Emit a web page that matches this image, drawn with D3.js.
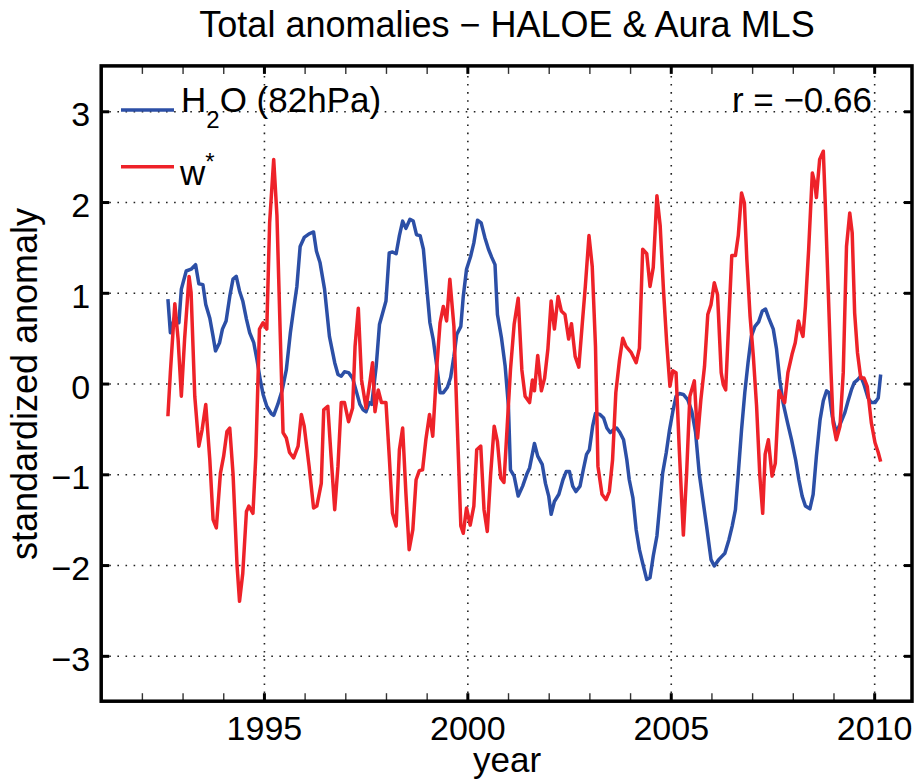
<!DOCTYPE html>
<html>
<head>
<meta charset="utf-8">
<script src="https://cdn.jsdelivr.net/npm/d3@7"></script>
<style>
  body { margin: 0; background: #fff; }
  svg { display: block; font-family: "Liberation Sans", Arial, Helvetica, sans-serif; }
  .grid line { stroke: #222; stroke-width: 1.6; stroke-dasharray: 1.6 6.5; }
  .grid .domain, .axis .domain { display: none; }
  .major line { stroke: #000; stroke-width: 3; }
  .minor line { stroke: #333; stroke-width: 1.4; }
  .axis text { font-size: 34px; fill: #000; }
</style>
</head>
<body>
<div id="chart"></div>
<script>
// H2O anomaly at 82 hPa (time in decimal years)
const h2oYear = [1992.64,1992.70,1992.81,1992.91,1992.97,1993.09,1993.21,1993.32,1993.40,1993.50,1993.57,1993.67,1993.75,1993.81,1993.91,1993.98,1994.07,1994.16,1994.24,1994.32,1994.40,1994.48,1994.57,1994.65,1994.75,1994.83,1994.91,1994.98,1995.07,1995.18,1995.24,1995.34,1995.45,1995.55,1995.65,1995.73,1995.81,1995.89,1995.99,1996.11,1996.22,1996.29,1996.38,1996.49,1996.61,1996.74,1996.82,1996.90,1996.98,1997.08,1997.18,1997.28,1997.36,1997.44,1997.51,1997.59,1997.65,1997.76,1997.84,1997.92,1998.00,1998.08,1998.16,1998.25,1998.33,1998.41,1998.49,1998.59,1998.67,1998.75,1998.84,1998.92,1999.00,1999.08,1999.16,1999.25,1999.33,1999.41,1999.51,1999.59,1999.67,1999.74,1999.84,1999.90,1999.98,2000.08,2000.16,2000.25,2000.34,2000.43,2000.52,2000.60,2000.68,2000.74,2000.84,2000.93,2001.01,2001.06,2001.15,2001.25,2001.36,2001.46,2001.53,2001.65,2001.73,2001.84,2001.92,2002.00,2002.06,2002.14,2002.25,2002.35,2002.43,2002.51,2002.59,2002.67,2002.77,2002.85,2002.93,2003.00,2003.08,2003.15,2003.26,2003.35,2003.43,2003.51,2003.59,2003.67,2003.75,2003.84,2003.92,2003.98,2004.07,2004.15,2004.23,2004.31,2004.41,2004.49,2004.57,2004.66,2004.72,2004.80,2004.89,2004.97,2005.05,2005.13,2005.21,2005.31,2005.42,2005.52,2005.61,2005.70,2005.79,2005.88,2005.99,2006.07,2006.18,2006.33,2006.43,2006.51,2006.59,2006.66,2006.74,2006.82,2006.90,2006.98,2007.07,2007.16,2007.25,2007.33,2007.41,2007.52,2007.60,2007.68,2007.76,2007.87,2007.97,2008.07,2008.15,2008.23,2008.31,2008.42,2008.50,2008.58,2008.67,2008.75,2008.83,2008.89,2008.97,2009.07,2009.18,2009.28,2009.36,2009.44,2009.51,2009.59,2009.67,2009.75,2009.85,2009.93,2010.02,2010.10,2010.16];
const h2oAnom = [0.93,0.56,0.74,0.67,1.04,1.24,1.26,1.31,1.10,1.09,0.87,0.72,0.52,0.36,0.45,0.60,0.69,0.96,1.15,1.18,1.02,0.91,0.71,0.56,0.45,0.26,0.04,-0.12,-0.25,-0.33,-0.35,-0.23,-0.07,0.15,0.56,0.82,1.07,1.51,1.61,1.65,1.67,1.46,1.33,1.04,0.52,0.23,0.10,0.08,0.13,0.12,0.06,-0.10,-0.23,-0.29,-0.31,-0.21,-0.23,0.19,0.65,0.78,0.91,1.44,1.45,1.43,1.63,1.79,1.71,1.81,1.79,1.64,1.63,1.48,1.07,0.67,0.49,0.19,-0.10,-0.10,-0.04,0.07,0.30,0.54,0.63,0.96,1.26,1.40,1.55,1.80,1.77,1.61,1.48,1.39,1.31,0.76,0.50,0.19,-0.25,-0.95,-1.02,-1.24,-1.13,-1.00,-0.93,-0.66,-0.80,-0.89,-1.10,-1.24,-1.44,-1.30,-1.22,-1.06,-0.97,-0.97,-1.13,-1.19,-1.13,-0.95,-0.78,-0.73,-0.47,-0.33,-0.34,-0.38,-0.49,-0.54,-0.51,-0.49,-0.54,-0.62,-0.84,-1.06,-1.26,-1.61,-1.83,-1.98,-2.16,-2.14,-1.90,-1.68,-1.39,-0.99,-0.76,-0.51,-0.31,-0.14,-0.11,-0.12,-0.18,-0.31,-0.54,-0.99,-1.28,-1.57,-1.94,-2.01,-1.94,-1.87,-1.72,-1.57,-1.39,-0.99,-0.51,-0.10,0.23,0.52,0.63,0.68,0.80,0.82,0.72,0.60,0.38,0.04,-0.21,-0.43,-0.62,-0.84,-1.06,-1.24,-1.35,-1.38,-1.22,-0.80,-0.40,-0.19,-0.08,-0.10,-0.36,-0.54,-0.43,-0.32,-0.19,-0.07,0.01,0.04,0.08,-0.01,-0.16,-0.21,-0.21,-0.16,0.10];

// w* anomaly
const wYear = [1992.64,1992.70,1992.81,1992.89,1992.97,1993.05,1993.16,1993.21,1993.30,1993.40,1993.48,1993.57,1993.67,1993.75,1993.83,1993.93,1994.01,1994.09,1994.16,1994.24,1994.34,1994.40,1994.48,1994.57,1994.63,1994.73,1994.80,1994.89,1994.98,1995.07,1995.14,1995.24,1995.32,1995.40,1995.47,1995.55,1995.63,1995.73,1995.84,1995.92,1995.99,1996.11,1996.22,1996.30,1996.41,1996.47,1996.57,1996.65,1996.74,1996.82,1996.90,1996.98,1997.08,1997.18,1997.24,1997.32,1997.40,1997.51,1997.59,1997.67,1997.73,1997.81,1997.89,1998.00,1998.08,1998.16,1998.25,1998.33,1998.41,1998.49,1998.57,1998.66,1998.74,1998.82,1998.90,1998.98,1999.07,1999.15,1999.25,1999.33,1999.41,1999.49,1999.57,1999.67,1999.75,1999.84,1999.90,1999.98,2000.07,2000.16,2000.23,2000.33,2000.41,2000.49,2000.57,2000.66,2000.74,2000.82,2000.90,2000.98,2001.06,2001.15,2001.25,2001.34,2001.42,2001.53,2001.60,2001.65,2001.73,2001.82,2001.90,2001.98,2002.06,2002.14,2002.23,2002.31,2002.40,2002.49,2002.56,2002.65,2002.74,2002.82,2002.90,2002.99,2003.07,2003.15,2003.21,2003.31,2003.41,2003.49,2003.57,2003.65,2003.74,2003.82,2003.90,2004.03,2004.15,2004.23,2004.31,2004.41,2004.49,2004.57,2004.66,2004.74,2004.82,2004.90,2004.98,2005.05,2005.13,2005.21,2005.31,2005.39,2005.47,2005.58,2005.66,2005.74,2005.83,2005.91,2005.99,2006.07,2006.15,2006.24,2006.29,2006.35,2006.42,2006.50,2006.59,2006.66,2006.74,2006.81,2006.87,2006.95,2007.03,2007.11,2007.19,2007.26,2007.32,2007.40,2007.49,2007.57,2007.66,2007.72,2007.80,2007.88,2007.98,2008.06,2008.14,2008.19,2008.25,2008.31,2008.39,2008.48,2008.54,2008.58,2008.66,2008.75,2008.80,2008.87,2008.94,2008.99,2009.07,2009.16,2009.24,2009.32,2009.40,2009.46,2009.52,2009.59,2009.67,2009.75,2009.83,2009.93,2010.02,2010.10,2010.16];
const wAnom = [-0.36,0.12,0.88,0.49,-0.14,0.49,1.18,1.00,-0.14,-0.69,-0.51,-0.23,-0.84,-1.50,-1.59,-0.99,-0.80,-0.53,-0.49,-0.99,-2.01,-2.40,-2.09,-1.41,-1.35,-1.43,-0.80,0.60,0.67,0.60,1.77,2.47,1.85,0.56,-0.54,-0.60,-0.76,-0.82,-0.69,-0.34,-0.47,-0.91,-1.37,-1.35,-1.10,-0.29,-0.25,-0.80,-1.39,-0.91,-0.21,-0.21,-0.42,-0.27,0.41,0.83,0.04,-0.27,-0.03,0.23,-0.31,-0.07,-0.21,-0.21,-0.80,-1.43,-1.57,-0.73,-0.49,-1.21,-1.83,-1.61,-1.06,-0.96,-0.95,-0.62,-0.34,-0.58,0.19,0.67,0.85,0.69,1.15,0.63,-0.43,-1.57,-1.65,-1.37,-1.56,-1.35,-0.73,-0.69,-1.39,-1.63,-1.02,-0.47,-0.64,-1.04,-1.09,-0.47,0.15,0.65,0.94,0.15,-0.14,-0.21,0.04,-0.08,0.31,-0.08,0.06,0.38,0.91,0.60,0.96,0.80,0.76,0.49,0.66,0.30,0.18,0.63,1.07,1.63,1.29,0.41,-0.91,-1.22,-1.28,-1.19,-0.84,-0.10,0.26,0.50,0.41,0.34,0.23,0.39,1.48,1.43,1.07,1.28,2.07,1.74,1.04,0.45,-0.03,0.14,0.12,-0.73,-1.67,-0.99,-0.14,0.03,-0.60,-0.18,0.19,0.76,0.87,1.11,0.98,0.12,-0.01,-0.07,0.63,1.41,1.41,1.63,2.10,1.99,1.37,0.74,0.30,-0.25,-1.02,-1.43,-0.78,-0.62,-1.02,-0.88,-0.08,-0.14,-0.21,0.12,0.32,0.45,0.69,0.60,0.52,0.85,1.48,2.32,2.21,2.05,2.47,2.56,1.96,1.04,0.12,-0.43,-0.62,-0.47,0.12,1.51,1.88,1.66,0.78,0.34,0.06,0.06,-0.03,-0.43,-0.65,-0.76,-0.86];

// axis ticks
const xMajor = [1995, 2000, 2005, 2010];
const xMinor = [1992, 1993, 1994, 1996, 1997, 1998, 1999, 2001, 2002, 2003, 2004, 2006, 2007, 2008, 2009];
const yMajor = [-3, -2, -1, 0, 1, 2, 3];

const width = 916, height = 783;
const margin = { top: 65.9, right: 4, bottom: 81.8, left: 101.2 };
const innerWidth = width - margin.left - margin.right;
const innerHeight = height - margin.top - margin.bottom;

const blue = "#2c4fa6";
const red = "#ee2229";

const svg = d3.select("#chart")
    .append("svg")
    .attr("width", width)
    .attr("height", height);

svg.append("rect").attr("width", width).attr("height", height).attr("fill", "#fff");

const inner = svg.append("g")
    .attr("transform", `translate(${margin.left}, ${margin.top})`);

const xScale = d3.scaleLinear()
    .domain([1991, 2010.93])
    .range([0, innerWidth]);

const yScale = d3.scaleLinear()
    .domain([-3.5, 3.5])
    .range([innerHeight, 0]);

// tick-only axes leave empty labels behind, drop them
const noText = g => g.selectAll("text").remove();

// dotted grid
inner.append("g")
    .attr("class", "grid")
    .attr("transform", `translate(0, ${innerHeight})`)
    .call(d3.axisBottom(xScale).tickValues(xMajor).tickSize(-innerHeight).tickFormat(""))
    .call(noText);

inner.append("g")
    .attr("class", "grid")
    .call(d3.axisLeft(yScale).tickValues(yMajor).tickSize(-innerWidth).tickFormat(""))
    .call(noText);

// series
const lineGenerator = d3.line()
    .x(d => xScale(d[0]))
    .y(d => yScale(d[1]));

inner.append("path")
    .attr("d", lineGenerator(d3.zip(h2oYear, h2oAnom)))
    .attr("fill", "none")
    .attr("stroke", blue)
    .attr("stroke-width", 3.5)
    .attr("stroke-linejoin", "round");

inner.append("path")
    .attr("d", lineGenerator(d3.zip(wYear, wAnom)))
    .attr("fill", "none")
    .attr("stroke", red)
    .attr("stroke-width", 3.5)
    .attr("stroke-linejoin", "round");

// ticks, pointing inwards on all four sides
const minus = d => d < 0 ? "\u2212" + Math.abs(d) : String(d);

inner.append("g")
    .attr("class", "axis minor")
    .attr("transform", `translate(0, ${innerHeight})`)
    .call(d3.axisBottom(xScale).tickValues(xMinor).tickSizeInner(-8).tickSizeOuter(0))
    .call(noText);

inner.append("g")
    .attr("class", "axis minor")
    .call(d3.axisTop(xScale).tickValues(xMinor).tickSizeInner(-8).tickSizeOuter(0))
    .call(noText);

inner.append("g")
    .attr("class", "axis major")
    .attr("transform", `translate(0, ${innerHeight})`)
    .call(d3.axisBottom(xScale).tickValues(xMajor).tickSizeInner(-8).tickSizeOuter(0)
        .tickPadding(15).tickFormat(d3.format("d")));

inner.append("g")
    .attr("class", "axis major")
    .call(d3.axisTop(xScale).tickValues(xMajor).tickSizeInner(-8).tickSizeOuter(0))
    .call(noText);

inner.append("g")
    .attr("class", "axis major")
    .call(d3.axisLeft(yScale).tickValues(yMajor).tickSizeInner(-8).tickSizeOuter(0)
        .tickPadding(11).tickFormat(minus))
    .selectAll("text")
    .attr("dy", "0.43em");

inner.append("g")
    .attr("class", "axis major")
    .attr("transform", `translate(${innerWidth}, 0)`)
    .call(d3.axisRight(yScale).tickValues(yMajor).tickSizeInner(-8).tickSizeOuter(0))
    .call(noText);

// axes box
inner.append("rect")
    .attr("width", innerWidth)
    .attr("height", innerHeight)
    .attr("fill", "none")
    .attr("stroke", "#000")
    .attr("stroke-width", 3.5);

// legend (no frame)
const legend = [
    { color: blue, y: 110 },
    { color: red, y: 166.7 }
];
svg.selectAll(".legend-line")
    .data(legend)
    .join("line")
    .attr("class", "legend-line")
    .attr("x1", 121).attr("x2", 174)
    .attr("y1", d => d.y).attr("y2", d => d.y)
    .attr("stroke", d => d.color)
    .attr("stroke-width", 3.5);

const h2oLabel = svg.append("text")
    .attr("x", 181)
    .attr("y", 111.7)
    .attr("font-size", 35);
h2oLabel.append("tspan").text("H");
h2oLabel.append("tspan").attr("font-size", 24).attr("dy", 16).text("2");
h2oLabel.append("tspan").attr("dy", -16).text("O (82hPa)");

const wLabel = svg.append("text")
    .attr("x", 180)
    .attr("y", 185)
    .attr("font-size", 35);
wLabel.append("tspan").text("w");
wLabel.append("tspan").attr("font-size", 24).attr("dy", -15).text("*");

svg.append("text")
    .attr("x", 872)
    .attr("y", 111.5)
    .attr("text-anchor", "end")
    .attr("font-size", 35)
    .text("r = \u22120.66");

// title and axis labels
svg.append("text")
    .attr("x", 507)
    .attr("y", 36.7)
    .attr("text-anchor", "middle")
    .attr("font-size", 36)
    .text("Total anomalies \u2212 HALOE & Aura MLS");

svg.append("text")
    .attr("x", 507)
    .attr("y", 772)
    .attr("text-anchor", "middle")
    .attr("font-size", 35)
    .text("year");

svg.append("text")
    .attr("transform", "translate(37, 384) rotate(-90)")
    .attr("text-anchor", "middle")
    .attr("font-size", 36)
    .text("standardized anomaly");
</script>
</body>
</html>
